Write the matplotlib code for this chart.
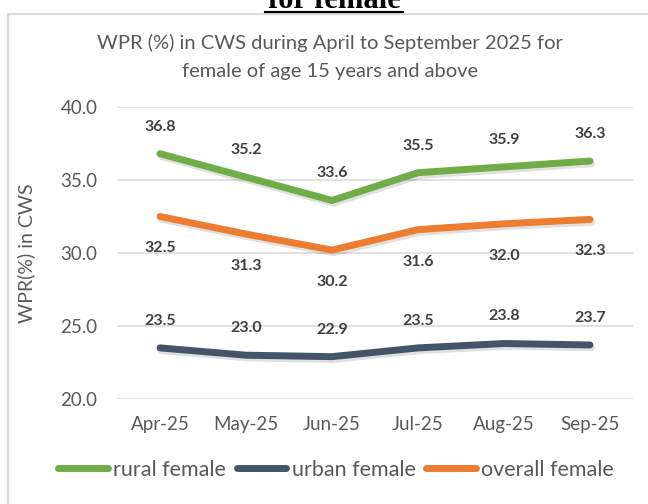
import matplotlib
matplotlib.use("Agg")
import matplotlib.pyplot as plt
import matplotlib.patheffects as pe
from matplotlib.patches import Rectangle
from matplotlib.lines import Line2D

months = ["Apr-25", "May-25", "Jun-25", "Jul-25", "Aug-25", "Sep-25"]
rural_female = [36.8, 35.2, 33.6, 35.5, 35.9, 36.3]
urban_female = [23.5, 23.0, 22.9, 23.5, 23.8, 23.7]
overall_female = [32.5, 31.3, 30.2, 31.6, 32.0, 32.3]
y_ticks = [20.0, 25.0, 30.0, 35.0, 40.0]

plt.rcParams['font.family'] = ['Lato', 'DejaVu Sans']

fig = plt.figure(figsize=(6.48, 5.04), dpi=100)
ax = fig.add_axes([117/648, 1-399/504, 516/648, 292/504])

series = [
    ("rural female", rural_female, "#70AD47", 19.5),
    ("urban female", urban_female, "#44546A", 19.5),
    ("overall female", overall_female, "#ED7D31", -23),
]
x = list(range(len(months)))
shadow = [pe.SimpleLineShadow(offset=(1.0, -2.0), shadow_color='black', alpha=0.12),
          pe.Normal()]
for name, vals, col, off in series:
    ax.plot(x, vals, color=col, lw=5, solid_capstyle='round', solid_joinstyle='miter',
            label=name, path_effects=shadow, zorder=3)
    for xi, v in zip(x, vals):
        ax.annotate(f"{v:.1f}", (xi, v), xytext=(0, off), textcoords='offset points',
                    ha='center', va='center', fontsize=11.5, fontweight='bold',
                    color='#404040', zorder=4)

ax.set_xlim(-0.5, len(months) - 0.5)
ax.set_ylim(20, 40)
ax.set_yticks(y_ticks)
ax.set_yticklabels([f"{t:.1f}" for t in y_ticks])
ax.set_xticks(x)
ax.set_xticklabels(months)
ax.tick_params(axis='both', length=0, labelsize=13.5, labelcolor='#595959')
ax.tick_params(axis='y', pad=14)
ax.tick_params(axis='x', pad=12)
ax.grid(axis='y', color='#D9D9D9', lw=1.1)
ax.set_axisbelow(True)
for s in ax.spines.values():
    s.set_visible(False)
ax.set_ylabel("WPR(%) in CWS", fontsize=14, color='#595959')
ax.yaxis.set_label_coords((35 - 117) / 516, 0.5)

fig.text(330/648, 1-43/504, "WPR (%) in CWS during April to September 2025 for",
         ha='center', va='center', fontsize=14.5, color='#595959')
fig.text(330/648, 1-72/504, "female of age 15 years and above",
         ha='center', va='center', fontsize=14.5, color='#595959')

# cut-off heading above the chart frame
fig.text(334/648, 1-8/504, "for female", ha='center', va='baseline',
         fontsize=22, fontweight='bold', family='Liberation Serif', color='black')
fig.add_artist(Line2D([265/648, 403/648], [1-12/504, 1-12/504],
                      transform=fig.transFigure, color='black', lw=1.5))

# chart frame
fig.add_artist(Rectangle((8/648, -0.1), 1.2, (504-14)/504 + 0.1,
                         transform=fig.transFigure, fill=False,
                         edgecolor='#D9D9D9', lw=1.5))

handles, labels = ax.get_legend_handles_labels()
leg = fig.legend(handles, labels, loc='center', bbox_to_anchor=(336/648, 1-470/504),
                 ncol=3, frameon=False, fontsize=15.5, handlelength=2.3,
                 handletextpad=0.25, columnspacing=0.5, labelcolor='#595959')
for h in leg.get_lines():
    h.set_path_effects([])
    h.set_solid_capstyle('round')

fig.savefig("out.png", dpi=100)
